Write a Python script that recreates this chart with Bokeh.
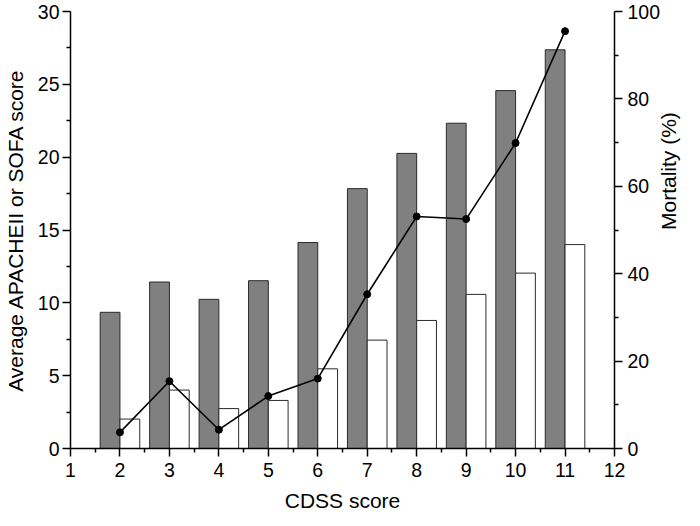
from bokeh.plotting import figure
from bokeh.models import Range1d, LinearAxis, FixedTicker, ColumnDataSource
from bokeh.transform import dodge
from bokeh.embed import file_html
from bokeh.resources import INLINE
import math

cdss = [2, 3, 4, 5, 6, 7, 8, 9, 10, 11]
apache = [9.35, 11.43, 10.24, 11.52, 14.14, 17.84, 20.26, 22.33, 24.57, 27.37]
sofa = [2.02, 4.01, 2.74, 3.30, 5.47, 7.44, 8.79, 10.58, 12.04, 14.0]
mortality = [3.7, 15.4, 4.3, 12.0, 16.0, 35.3, 53.1, 52.5, 69.9, 95.5]
x_ticks = list(range(1, 13))
left_ticks = [0, 5, 10, 15, 20, 25, 30]
right_ticks = [0, 20, 40, 60, 80, 100]

src = ColumnDataSource(dict(x=cdss, apache=apache, sofa=sofa, mort=mortality))

FONT = "Liberation Sans"
TICK_FS = "19.5px"
TITLE_FS = "21px"

p = figure(frame_width=544, frame_height=437, output_backend="svg", toolbar_location=None,
           x_range=Range1d(1, 12), y_range=Range1d(0, 30),
           min_border_left=66, min_border_right=74, min_border_top=11, min_border_bottom=62)
p.extra_y_ranges = {"mort": Range1d(0, 100)}
p.outline_line_color = None
p.xgrid.visible = False
p.ygrid.visible = False
p.background_fill_color = "white"
p.border_fill_color = "white"

p.vbar(x=dodge("x", -0.2, range=p.x_range), top="apache", width=0.4, source=src,
       fill_color="#808080", line_color="#2a2a2a", line_width=1)
p.vbar(x=dodge("x", 0.2, range=p.x_range), top="sofa", width=0.4, source=src,
       fill_color="white", line_color="#2a2a2a", line_width=1)
p.line(x="x", y="mort", source=src, y_range_name="mort", line_color="black", line_width=1.6)
p.scatter(x="x", y="mort", source=src, y_range_name="mort", size=7,
          fill_color="black", line_color="black")

def style(ax):
    ax.axis_line_width = 1.5
    ax.axis_line_color = "black"
    ax.major_tick_line_color = "black"
    ax.minor_tick_line_color = "black"
    ax.major_tick_line_width = 1.5
    ax.minor_tick_line_width = 1.5
    ax.major_tick_out = 8
    ax.major_tick_in = 0
    ax.minor_tick_out = 4
    ax.minor_tick_in = 0
    ax.major_label_text_font = FONT
    ax.major_label_text_font_size = TICK_FS
    ax.major_label_text_color = "black"
    ax.axis_label_text_font = FONT
    ax.axis_label_text_font_size = TITLE_FS
    ax.axis_label_text_font_style = "normal"
    ax.axis_label_text_color = "black"

xa = p.xaxis[0]
xa.ticker = FixedTicker(ticks=x_ticks, minor_ticks=[t + 0.5 for t in x_ticks[:-1]])
xa.axis_label = "CDSS score"
xa.major_label_standoff = 6
xa.axis_label_standoff = 9
style(xa)

ya = p.yaxis[0]
ya.ticker = FixedTicker(ticks=left_ticks, minor_ticks=[t + 2.5 for t in left_ticks[:-1]])
ya.axis_label = "Average APACHEII or SOFA score"
ya.major_label_standoff = 3
ya.axis_label_standoff = 8
style(ya)

ra = LinearAxis(y_range_name="mort", axis_label="Mortality (%)",
                ticker=FixedTicker(ticks=right_ticks, minor_ticks=[t + 10 for t in right_ticks[:-1]]))
ra.major_label_standoff = 5
ra.axis_label_standoff = 5
try:
    ra.axis_label_orientation = math.pi / 2
except Exception:
    pass
style(ra)
p.add_layout(ra, "right")

open("out.html", "w").write(file_html(p, INLINE))
